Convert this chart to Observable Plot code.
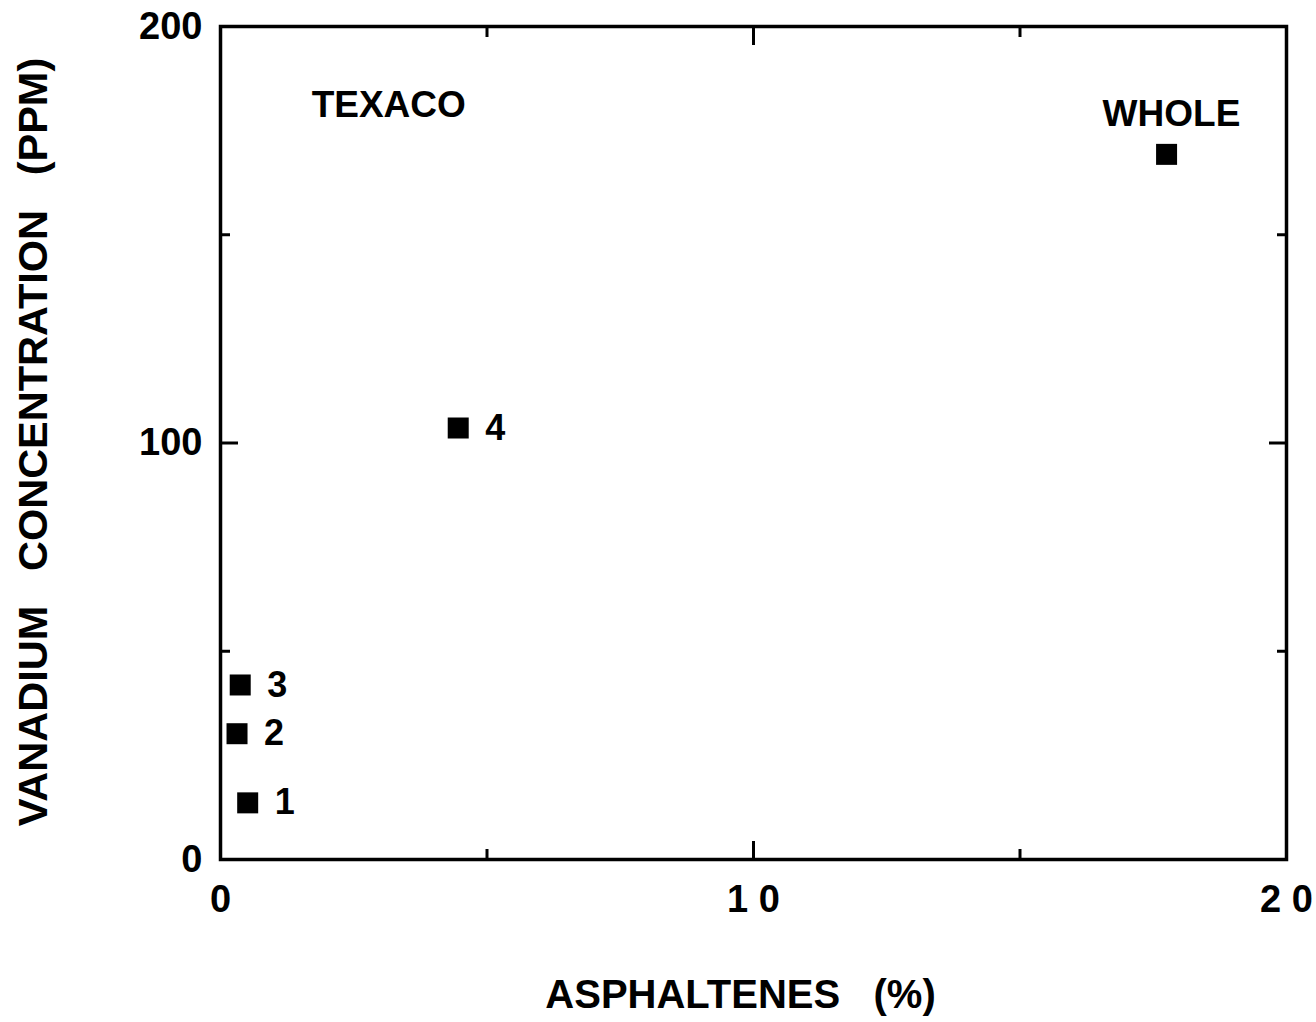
<!DOCTYPE html>
<html><head><meta charset="utf-8">
<script src="https://cdn.jsdelivr.net/npm/d3@7"></script>
<script src="https://cdn.jsdelivr.net/npm/@observablehq/plot@0.6"></script>
<style>body{margin:0;background:#fff}</style>
</head><body><div id="chart"></div>
<script>
const sampleNames = ["1", "2", "3", "4", "WHOLE"];
const asphaltenes = [0.51, 0.31, 0.37, 4.46, 17.75];
const vanadium = [13.6, 30.2, 41.9, 103.6, 169.3];
const pointTags = ["1", "2", "3", "4", ""];
const xTickValues = [0, 10, 20];
const xTickLabels = ["0", "1 0", "2 0"];
const yTickValues = [0, 100, 200];
const yTickLabels = ["0", "100", "200"];
const xMajorTicks = [10];
const xMinorTicks = [5, 15];
const yMajorTicks = [100];
const yMinorTicks = [50, 150];
const noteText = ["TEXACO", "WHOLE"];
const noteX = [1.71, 16.55];
const noteY = [181, 179];
const xTitle = "ASPHALTENES\u00a0\u00a0\u00a0(%)";
const yTitle = "VANADIUM\u00a0\u00a0\u00a0CONCENTRATION\u00a0\u00a0\u00a0(PPM)";

const points = sampleNames.map((n, i) => ({name: n, x: asphaltenes[i], y: vanadium[i], tag: pointTags[i]}));
const notes = noteText.map((t, i) => ({t, x: noteX[i], y: noteY[i]}));

const font = "'Liberation Sans', Arial, Helvetica, sans-serif";
const tickMarks = [];
for (const anchor of ["bottom", "top"]) {
  tickMarks.push(Plot.axisX({anchor, ticks: xMajorTicks, tickSize: -18, strokeWidth: 3, fill: "none", label: null}));
  tickMarks.push(Plot.axisX({anchor, ticks: xMinorTicks, tickSize: -10, strokeWidth: 3, fill: "none", label: null}));
}
for (const anchor of ["left", "right"]) {
  tickMarks.push(Plot.axisY({anchor, ticks: yMajorTicks, tickSize: -18, strokeWidth: 3, fill: "none", label: null}));
  tickMarks.push(Plot.axisY({anchor, ticks: yMinorTicks, tickSize: -10, strokeWidth: 3, fill: "none", label: null}));
}

const chart = Plot.plot({
  width: 1316,
  height: 1022,
  marginLeft: 220,
  marginRight: 30,
  marginTop: 26,
  marginBottom: 163,
  style: {fontFamily: font, fontWeight: "bold", background: "#fff", color: "#000"},
  x: {domain: [0, 20], axis: null},
  y: {domain: [0, 200], axis: null},
  marks: [
    Plot.frame({strokeWidth: 3.5}),
    ...tickMarks,
    Plot.axisX({anchor: "bottom", ticks: xTickValues, tickSize: 0, tickPadding: 26, fontSize: 38, fontWeight: "bold",
      tickFormat: d => xTickLabels[xTickValues.indexOf(d)], label: null}),
    Plot.axisY({anchor: "left", ticks: yTickValues, tickSize: 0, tickPadding: 18, fontSize: 38, fontWeight: "bold",
      tickFormat: d => yTickLabels[yTickValues.indexOf(d)], label: null}),
    Plot.dot(points, {x: "x", y: "y", symbol: "square", r: 11.85, fill: "#000", stroke: null}),
    Plot.text(points, {x: "x", y: "y", text: "tag", textAnchor: "start", lineAnchor: "middle", dx: 27, fontSize: 36, fontWeight: "bold", fill: "#000"}),
    Plot.text(notes, {x: "x", y: "y", text: "t", textAnchor: "start", lineAnchor: "middle", fontSize: 37, fontWeight: "bold", fill: "#000"}),
    Plot.text([xTitle], {frameAnchor: "bottom", text: d => d, textAnchor: "middle", lineAnchor: "middle", dx: -13, dy: 136, fontSize: 40, fontWeight: "bold", fill: "#000"}),
    Plot.text([yTitle], {frameAnchor: "left", text: d => d, rotate: -90, textAnchor: "middle", lineAnchor: "middle", dx: -187, dy: -1, fontSize: 41.5, fontWeight: "bold", fill: "#000"})
  ]
});
document.getElementById("chart").appendChild(chart);
</script>
</body></html>
